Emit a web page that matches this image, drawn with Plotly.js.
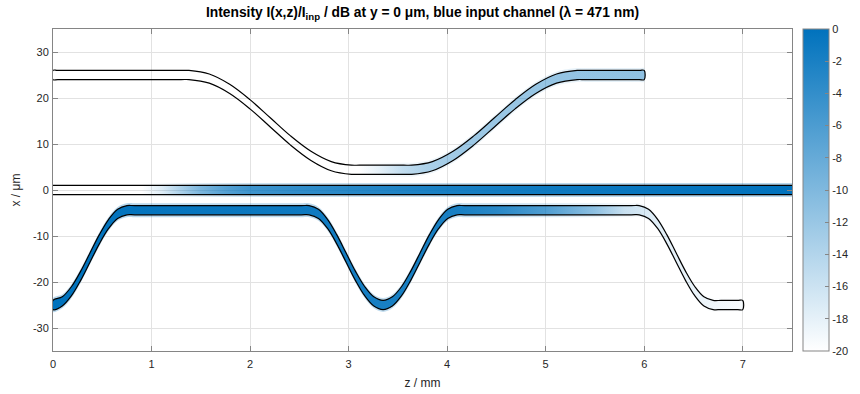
<!DOCTYPE html>
<html>
<head>
<meta charset="utf-8">
<script src="https://cdn.plot.ly/plotly-3.0.1.min.js"></script>
<style>html,body{margin:0;padding:0;background:#fff;}#chart{width:860px;height:394px;}</style>
</head>
<body>
<div id="chart"></div>
<script>
// ---- data ----
// waveguide centre lines (z in mm, x in µm)
const upperZ = [0, 0.05, 1.30, 1.38, 1.586, 1.793, 1.999, 2.205, 2.411, 2.618, 2.824, 3.03, 3.11, 3.56, 3.64, 3.85, 4.06, 4.27, 4.48, 4.69, 4.90, 5.11, 5.32, 5.40, 5.95, 6.0];
const upperX = [25, 25, 25, 25, 24.22, 21.98, 18.64, 14.7, 10.76, 7.42, 5.18, 4.4, 4.4, 4.4, 4.4, 5.18, 7.42, 10.76, 14.7, 18.64, 21.98, 24.22, 25, 25, 25, 25];

const centralZ = [-0.2, 7.7];
const centralX = [0, 0];

const lowerZ = [0, 0.094, 0.188, 0.281, 0.375, 0.469, 0.563, 0.656, 0.75, 0.83, 2.52, 2.6, 2.694, 2.788, 2.881, 2.975, 3.069, 3.163, 3.256, 3.35, 3.444, 3.538, 3.631, 3.725, 3.819, 3.913, 4.006, 4.1, 4.18, 5.87, 5.95, 6.044, 6.138, 6.231, 6.325, 6.419, 6.513, 6.606, 6.7, 6.78, 6.95, 7.0];
const lowerX = [-25, -24.22, -21.98, -18.64, -14.7, -10.76, -7.42, -5.18, -4.4, -4.4, -4.4, -4.4, -5.18, -7.42, -10.76, -14.7, -18.64, -21.98, -24.22, -25, -24.22, -21.98, -18.64, -14.7, -10.76, -7.42, -5.18, -4.4, -4.4, -4.4, -4.4, -5.18, -7.42, -10.76, -14.7, -18.64, -21.98, -24.22, -25, -25, -25, -25];

// intensity along each guide (dB)
const upperDbZ = [0, 3.1, 3.3, 3.55, 3.8, 4.2, 5.0, 6.0];
const upperDb  = [-20, -20, -18.5, -16, -14.5, -13.5, -13, -12.5];
const centralDbZ = [0, 0.9, 1.1, 1.3, 1.5, 1.75, 2.0, 2.5, 3.0, 4.0, 5.0, 6.0, 7.5];
const centralDb  = [-20, -20, -18, -14.5, -11, -8, -6, -4.8, -4, -2.5, -1.5, -0.8, 0];
const lowerDbZ = [0, 1.0, 2.6, 3.35, 4.1, 4.5, 5.0, 5.5, 5.8, 6.1, 7.0];
const lowerDb  = [0, -0.5, -1.5, -2.5, -2.5, -4, -7.5, -12.5, -16.5, -18, -19.5];

// ticks
const xTickVals = [0, 1, 2, 3, 4, 5, 6, 7];
const xTickText = ['0', '1', '2', '3', '4', '5', '6', '7'];
const yTickVals = [-30, -20, -10, 0, 10, 20, 30];
const yTickText = ['-30', '-20', '-10', '0', '10', '20', '30'];
const cbTickVals = [-20, -18, -16, -14, -12, -10, -8, -6, -4, -2, 0];
const cbTickText = ['-20', '-18', '-16', '-14', '-12', '-10', '-8', '-6', '-4', '-2', '0'];

const DB_MIN = -20, DB_MAX = 0;

// ---- styling / construction ----
const HALF_W = 1;
const HALO_W = 1.5;
const FONT = '"Liberation Sans", Arial, Helvetica, sans-serif';
const AX = '#858585';
const TXT = '#262626';

function polygon(zc, xc, hw) {
  const zs = [], xs = [];
  for (let i = 0; i < zc.length; i++) { zs.push(zc[i]); xs.push(xc[i] + hw); }
  for (let i = zc.length - 1; i >= 0; i--) { zs.push(zc[i]); xs.push(xc[i] - hw); }
  zs.push(zs[0]); xs.push(xs[0]);
  return { zs, xs };
}
function dbColor(db, k) {
  const f = Math.max(0, Math.min(1, (db - DB_MIN) / (DB_MAX - DB_MIN)));
  return 'rgba(0,114,189,' + (f * k).toFixed(3) + ')';
}
function gradient(zk, dbk, k) {
  const z0 = zk[0], z1 = zk[zk.length - 1];
  return { type: 'horizontal', start: z0, stop: z1,
    colorscale: zk.map((z, i) => [(z - z0) / (z1 - z0), dbColor(dbk[i], k)]) };
}
function guideTrace(zc, xc, zk, dbk, hw, k, withLine, shape) {
  const p = polygon(zc, xc, hw);
  return {
    type: 'scatter', x: p.zs, y: p.xs, mode: 'lines',
    line: withLine ? { color: '#000000', width: 1.2, shape: shape } : { color: 'rgba(0,0,0,0)', width: 0, shape: shape },
    fill: 'toself', fillgradient: gradient(zk, dbk, k),
    hoverinfo: 'skip', showlegend: false
  };
}

const guides = [
  [upperZ, upperX, upperDbZ, upperDb, 'spline'],
  [centralZ, centralX, centralDbZ, centralDb, 'linear'],
  [lowerZ, lowerX, lowerDbZ, lowerDb, 'spline']
];

const data = [];
guides.forEach(g => data.push(guideTrace(g[0], g[1], g[2], g[3], HALO_W, 0.28, false, g[4])));
guides.forEach(g => data.push(guideTrace(g[0], g[1], g[2], g[3], HALF_W, 1, true, g[4])));

// colour bar carrier (points lie outside the visible ranges)
data.push({
  type: 'scatter', x: [100, 100], y: [100, 100], mode: 'markers', hoverinfo: 'skip', showlegend: false,
  marker: {
    size: 1, color: [DB_MIN, DB_MAX], cmin: DB_MIN, cmax: DB_MAX,
    colorscale: [[0, '#ffffff'], [1, '#0072bd']], showscale: true,
    colorbar: {
      thickness: 26, len: 322, lenmode: 'pixels', x: 1.0149, xanchor: 'left', xpad: 0,
      y: 0.5, yanchor: 'middle', ypad: 0,
      outlinewidth: 1, outlinecolor: AX,
      tickmode: 'array', tickvals: cbTickVals, ticktext: cbTickText,
      ticks: 'inside', ticklen: 4, tickcolor: AX,
      tickfont: { family: FONT, size: 11, color: TXT }
    }
  }
});

const axisBase = {
  showline: true, linecolor: AX, linewidth: 1, mirror: 'ticks',
  ticks: 'inside', ticklen: 5, tickcolor: AX, tickwidth: 1,
  showgrid: true, gridcolor: '#e2e2e2', gridwidth: 1, zeroline: false,
  tickfont: { family: FONT, size: 11, color: TXT }, tickmode: 'array', fixedrange: true
};

const layout = {
  width: 860, height: 394,
  margin: { l: 53, r: 68, t: 29, b: 43, autoexpand: false },
  paper_bgcolor: '#ffffff', plot_bgcolor: '#ffffff',
  title: {
    text: '<b>Intensity I(x,z)/I<sub>inp</sub> / dB at y = 0 μm, blue input channel (λ = 471 nm)</b>',
    font: { family: FONT, size: 13.8, color: '#000000' },
    x: 0.5, xref: 'paper', xanchor: 'center', y: 1 - 12 / 394, yref: 'container', yanchor: 'middle'
  },
  xaxis: Object.assign({}, axisBase, {
    range: [0, 7.5], tickvals: xTickVals, ticktext: xTickText, ticklabelstandoff: 3,
    title: { text: 'z / mm', font: { family: FONT, size: 12, color: TXT }, standoff: 9 }
  }),
  yaxis: Object.assign({}, axisBase, {
    range: [-35, 35], tickvals: yTickVals, ticktext: yTickText, ticklabelstandoff: 1,
    title: { text: 'x / μm', font: { family: FONT, size: 12, color: TXT }, standoff: 9 }
  })
};

Plotly.newPlot('chart', data, layout, { staticPlot: true, displayModeBar: false });
</script>
</body>
</html>
